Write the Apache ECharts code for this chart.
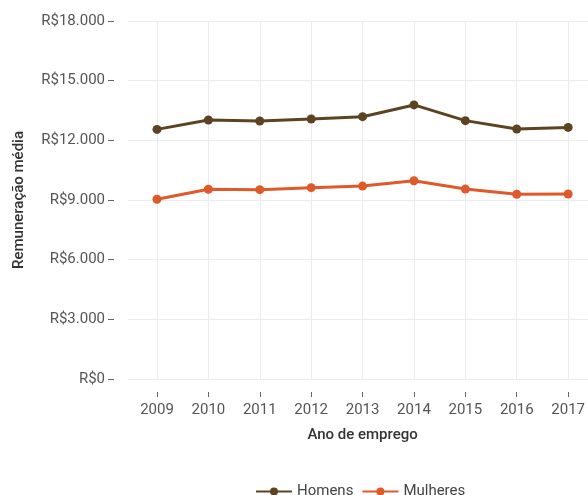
<!DOCTYPE html>
<html>
<head>
<meta charset="utf-8">
<script src="https://cdn.jsdelivr.net/npm/echarts@6/dist/echarts.min.js"></script>
<style>
html,body{margin:0;padding:0;background:#fff;}
#chart{width:588px;height:495px;}
</style>
</head>
<body>
<div id="chart"></div>
<script>
// dados
var anos = ['2009','2010','2011','2012','2013','2014','2015','2016','2017'];
var homens = [12550, 13020, 12970, 13070, 13190, 13780, 12990, 12570, 12650];
var mulheres = [9035, 9540, 9520, 9620, 9700, 9970, 9550, 9290, 9300];

var corHomens = '#5c4322';
var corMulheres = '#e0592a';

function reais(v){
  var s = String(Math.round(v)).replace(/\B(?=(\d{3})+(?!\d))/g, '.');
  return 'R$' + s;
}

var chart = echarts.init(document.getElementById('chart'));
var fonte = 'Roboto, "Noto Sans", sans-serif';

var option = {
  animation: false,
  textStyle: {fontFamily: fonte},
  grid: [
    {left: 157, right: 18.5, top: 21, bottom: 116},
    {left: 128, right: 0, top: 21, bottom: 116}
  ],
  legend: {
    top: 479,
    left: 250,
    itemWidth: 36,
    itemHeight: 10,
    itemGap: 8,
    textStyle: {color: '#444', fontSize: 15, fontFamily: fonte},
    data: ['Homens', 'Mulheres']
  },
  xAxis: [
    {
      type: 'category', gridIndex: 0, data: anos, boundaryGap: false,
      name: 'Ano de emprego', nameLocation: 'middle', nameGap: 49,
      nameTextStyle: {color: '#333', fontSize: 15, fontWeight: 500},
      axisLine: {show: false},
      // traço curto afastado do eixo
      axisTick: {show: true, length: 18, lineStyle: {color: '#666', type: [0, 13, 5]}},
      axisLabel: {color: '#555', fontSize: 15, margin: 24},
      splitLine: {show: true, lineStyle: {color: '#ebebf2', width: 1}}
    },
    {
      type: 'category', gridIndex: 1, data: anos, show: false
    }
  ],
  yAxis: [
    {
      type: 'value', gridIndex: 0, min: 0, max: 18000, interval: 3000,
      show: false, splitLine: {show: false}
    },
    {
      type: 'value', gridIndex: 1, min: 0, max: 18000, interval: 3000,
      name: 'Remuneração média', nameLocation: 'middle', nameGap: 101,
      nameMoveOverlap: false,
      nameTextStyle: {color: '#333', fontSize: 15, fontWeight: 500},
      axisLine: {show: false},
      axisTick: {show: true, length: 20, lineStyle: {color: '#666', type: [0, 14, 6]}},
      axisLabel: {color: '#555', fontSize: 15, margin: 23, formatter: reais},
      splitLine: {show: true, lineStyle: {color: '#ebebf2', width: 1}}
    }
  ],
  series: [
    {
      name: 'Homens', type: 'line', xAxisIndex: 0, yAxisIndex: 0,
      data: homens, symbol: 'circle', symbolSize: 9,
      lineStyle: {color: corHomens, width: 3},
      itemStyle: {color: corHomens}
    },
    {
      name: 'Mulheres', type: 'line', xAxisIndex: 0, yAxisIndex: 0,
      data: mulheres, symbol: 'circle', symbolSize: 9,
      lineStyle: {color: corMulheres, width: 3},
      itemStyle: {color: corMulheres}
    }
  ]
};
chart.setOption(option);
</script>
</body>
</html>
